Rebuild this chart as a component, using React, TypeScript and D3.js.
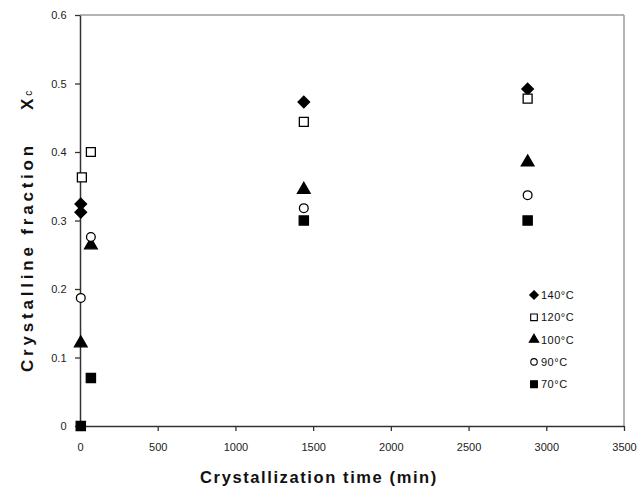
import React, { useEffect, useRef } from "react";
import * as d3 from "d3";

// series: [time (min), crystalline fraction]
const series140: [number, number][] = [[5, 0.324], [5, 0.312], [1440, 0.473], [2880, 0.492]];
const series120: [number, number][] = [[12, 0.363], [70, 0.4], [1440, 0.444], [2880, 0.478]];
const series100: [number, number][] = [[5, 0.121], [70, 0.264], [1440, 0.345], [2880, 0.385]];
const series90: [number, number][] = [[5, 0.187], [70, 0.276], [1440, 0.318], [2880, 0.337]];
const series70: [number, number][] = [[5, 0], [70, 0.07], [1440, 0.3], [2880, 0.3]];

const legendLabels = ["140°C", "120°C", "100°C", "90°C", "70°C"];
const xTicks = [0, 500, 1000, 1500, 2000, 2500, 3000, 3500];
const yTicks = [0, 0.1, 0.2, 0.3, 0.4, 0.5, 0.6];

const W = 641;
const H = 497;

export default function App() {
  const ref = useRef<SVGSVGElement>(null);

  useEffect(() => {
    const svg = d3.select(ref.current);
    svg.selectAll("*").remove();

    const x = d3.scaleLinear().domain([0, 3500]).range([80, 624]);
    const y = d3.scaleLinear().domain([0, 0.6]).range([426, 15]);

    const font = "Arial, 'Liberation Sans', sans-serif";

    // plot box top and right in gray
    svg.append("line")
      .attr("x1", x(0)).attr("x2", x(3500))
      .attr("y1", y(0.6)).attr("y2", y(0.6))
      .attr("stroke", "#9a9a9a").attr("stroke-width", 1.5);
    svg.append("line")
      .attr("x1", x(3500)).attr("x2", x(3500))
      .attr("y1", y(0.6)).attr("y2", y(0))
      .attr("stroke", "#9a9a9a").attr("stroke-width", 1.5);

    const xAxis = d3.axisBottom(x).tickValues(xTicks).tickSize(5).tickSizeOuter(0)
      .tickFormat(d3.format("d"));
    const yAxis = d3.axisLeft(y).tickValues(yTicks).tickSize(5).tickSizeOuter(0)
      .tickFormat((d) => (d === 0 ? "0" : d3.format(".1f")(d as number)));

    const gx = svg.append("g").attr("transform", `translate(0,${y(0)})`).call(xAxis);
    const gy = svg.append("g").attr("transform", `translate(${x(0)},0)`).call(yAxis);

    [gx, gy].forEach((g) => {
      g.select(".domain").attr("stroke", "#333").attr("stroke-width", 1.5);
      g.selectAll(".tick line").attr("stroke", "#333").attr("stroke-width", 1.3);
      g.selectAll(".tick text")
        .attr("font-family", font).attr("font-size", 11).attr("fill", "#222");
    });
    gx.selectAll(".tick text").attr("dy", "1.55em");
    gy.selectAll(".tick text").attr("dx", "-0.5em");

    const sym = (type: d3.SymbolType, size: number) => d3.symbol().type(type).size(size)();

    const groups = [
      { data: series140, shape: d3.symbolDiamond2, size: 85, fill: "#000" },
      { data: series120, shape: d3.symbolSquare, size: 80, fill: "#fff" },
      { data: series100, shape: d3.symbolTriangle, size: 70, fill: "#000" },
      { data: series90, shape: d3.symbolCircle, size: 60, fill: "#fff" },
      { data: series70, shape: d3.symbolSquare, size: 85, fill: "#000" },
    ];

    groups.forEach((s) => {
      svg.append("g").selectAll("path").data(s.data).join("path")
        .attr("d", sym(s.shape, s.size))
        .attr("transform", (d) => `translate(${x(d[0])},${y(d[1])})`)
        .attr("fill", s.fill)
        .attr("stroke", "#000")
        .attr("stroke-width", 1.3);
    });

    // legend
    const lg = svg.append("g");
    groups.forEach((s, i) => {
      const ly = 295 + i * 22.3;
      lg.append("path")
        .attr("d", sym(s.shape, s.size * 0.55))
        .attr("transform", `translate(534,${ly})`)
        .attr("fill", s.fill)
        .attr("stroke", "#000")
        .attr("stroke-width", 1.1);
      lg.append("text")
        .attr("x", 541).attr("y", ly + 4)
        .attr("font-family", font).attr("font-size", 11)
        .attr("letter-spacing", 0.5)
        .attr("fill", "#111")
        .text(legendLabels[i]);
    });

    // axis titles
    svg.append("text")
      .attr("x", 319).attr("y", 483)
      .attr("text-anchor", "middle")
      .attr("font-family", font).attr("font-weight", "bold").attr("font-size", 16.5)
      .attr("letter-spacing", 1.6)
      .attr("fill", "#111")
      .text("Crystallization time (min)");

    svg.append("text")
      .attr("transform", "translate(33,257) rotate(-90)")
      .attr("text-anchor", "middle")
      .attr("font-family", font).attr("font-weight", "bold").attr("font-size", 17)
      .attr("letter-spacing", 3.8)
      .attr("fill", "#111")
      .text("Crystalline fraction");

    const xc = svg.append("text")
      .attr("transform", "translate(33,110) rotate(-90)")
      .attr("font-family", font).attr("font-weight", "bold").attr("font-size", 17)
      .attr("fill", "#111");
    xc.append("tspan").text("X");
    xc.append("tspan").attr("font-size", 10).attr("font-weight", "normal")
      .attr("dx", 3).attr("dy", -1).text("c");
  }, []);

  return (
    <svg
      ref={ref}
      width={W}
      height={H}
      style={{ display: "block", position: "absolute", left: 0, top: 0, background: "#fff" }}
    />
  );
}
